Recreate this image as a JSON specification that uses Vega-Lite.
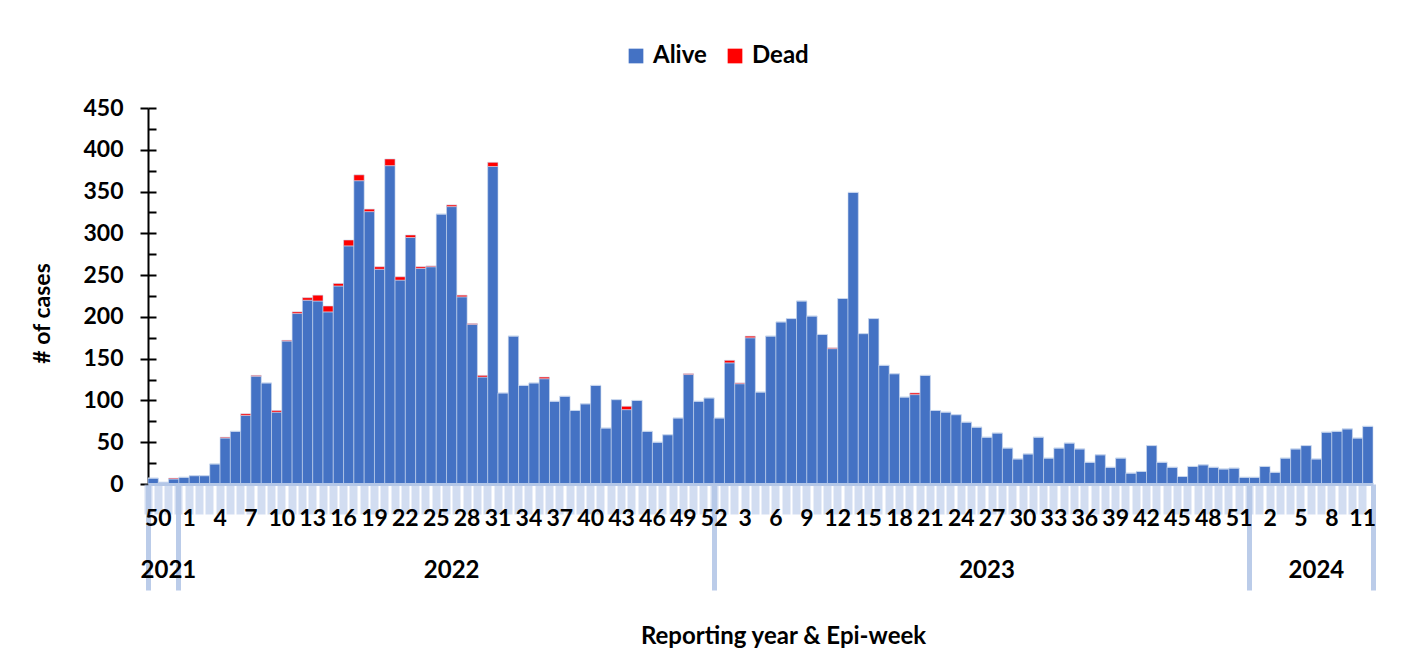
{
  "$schema": "https://vega.github.io/schema/vega-lite/v6.json",
  "autosize": {"type": "none"},
  "padding": {"left": 148, "top": 108, "right": 29, "bottom": 169},
  "width": 1225,
  "height": 376,
  "background": "white",
  "config": {
    "font": "Lato",
    "view": {"stroke": null},
    "axis": {"grid": false}
  },
  "data": {
    "values": [
      {"k": "2021-50", "Alive": 7, "Dead": 0},
      {"k": "2021-51", "Alive": 2, "Dead": 0},
      {"k": "2021-52", "Alive": 6, "Dead": 1},
      {"k": "2022-01", "Alive": 8, "Dead": 0},
      {"k": "2022-02", "Alive": 10, "Dead": 0},
      {"k": "2022-03", "Alive": 10, "Dead": 0},
      {"k": "2022-04", "Alive": 24, "Dead": 0},
      {"k": "2022-05", "Alive": 55, "Dead": 1},
      {"k": "2022-06", "Alive": 63, "Dead": 0},
      {"k": "2022-07", "Alive": 82, "Dead": 2},
      {"k": "2022-08", "Alive": 129, "Dead": 1},
      {"k": "2022-09", "Alive": 121, "Dead": 0},
      {"k": "2022-10", "Alive": 86, "Dead": 2},
      {"k": "2022-11", "Alive": 171, "Dead": 1},
      {"k": "2022-12", "Alive": 204, "Dead": 2},
      {"k": "2022-13", "Alive": 220, "Dead": 3},
      {"k": "2022-14", "Alive": 219, "Dead": 7},
      {"k": "2022-15", "Alive": 206, "Dead": 7},
      {"k": "2022-16", "Alive": 237, "Dead": 3},
      {"k": "2022-17", "Alive": 285, "Dead": 7},
      {"k": "2022-18", "Alive": 363, "Dead": 7},
      {"k": "2022-19", "Alive": 326, "Dead": 3},
      {"k": "2022-20", "Alive": 257, "Dead": 3},
      {"k": "2022-21", "Alive": 381, "Dead": 8},
      {"k": "2022-22", "Alive": 244, "Dead": 4},
      {"k": "2022-23", "Alive": 295, "Dead": 3},
      {"k": "2022-24", "Alive": 258, "Dead": 2},
      {"k": "2022-25", "Alive": 260, "Dead": 1},
      {"k": "2022-26", "Alive": 323, "Dead": 0},
      {"k": "2022-27", "Alive": 332, "Dead": 2},
      {"k": "2022-28", "Alive": 224, "Dead": 2},
      {"k": "2022-29", "Alive": 191, "Dead": 1},
      {"k": "2022-30", "Alive": 128, "Dead": 2},
      {"k": "2022-31", "Alive": 380, "Dead": 5},
      {"k": "2022-32", "Alive": 109, "Dead": 0},
      {"k": "2022-33", "Alive": 177, "Dead": 0},
      {"k": "2022-34", "Alive": 118, "Dead": 0},
      {"k": "2022-35", "Alive": 121, "Dead": 0},
      {"k": "2022-36", "Alive": 126, "Dead": 2},
      {"k": "2022-37", "Alive": 99, "Dead": 0},
      {"k": "2022-38", "Alive": 105, "Dead": 0},
      {"k": "2022-39", "Alive": 88, "Dead": 0},
      {"k": "2022-40", "Alive": 96, "Dead": 0},
      {"k": "2022-41", "Alive": 118, "Dead": 0},
      {"k": "2022-42", "Alive": 67, "Dead": 0},
      {"k": "2022-43", "Alive": 101, "Dead": 0},
      {"k": "2022-44", "Alive": 89, "Dead": 4},
      {"k": "2022-45", "Alive": 100, "Dead": 0},
      {"k": "2022-46", "Alive": 63, "Dead": 0},
      {"k": "2022-47", "Alive": 50, "Dead": 0},
      {"k": "2022-48", "Alive": 59, "Dead": 0},
      {"k": "2022-49", "Alive": 79, "Dead": 0},
      {"k": "2022-50", "Alive": 131, "Dead": 1},
      {"k": "2022-51", "Alive": 99, "Dead": 0},
      {"k": "2022-52", "Alive": 103, "Dead": 0},
      {"k": "2023-01", "Alive": 79, "Dead": 0},
      {"k": "2023-02", "Alive": 145, "Dead": 3},
      {"k": "2023-03", "Alive": 120, "Dead": 1},
      {"k": "2023-04", "Alive": 175, "Dead": 2},
      {"k": "2023-05", "Alive": 110, "Dead": 0},
      {"k": "2023-06", "Alive": 177, "Dead": 0},
      {"k": "2023-07", "Alive": 194, "Dead": 0},
      {"k": "2023-08", "Alive": 198, "Dead": 0},
      {"k": "2023-09", "Alive": 219, "Dead": 0},
      {"k": "2023-10", "Alive": 201, "Dead": 0},
      {"k": "2023-11", "Alive": 179, "Dead": 0},
      {"k": "2023-12", "Alive": 162, "Dead": 1},
      {"k": "2023-13", "Alive": 222, "Dead": 0},
      {"k": "2023-14", "Alive": 349, "Dead": 0},
      {"k": "2023-15", "Alive": 180, "Dead": 0},
      {"k": "2023-16", "Alive": 198, "Dead": 0},
      {"k": "2023-17", "Alive": 142, "Dead": 0},
      {"k": "2023-18", "Alive": 132, "Dead": 0},
      {"k": "2023-19", "Alive": 104, "Dead": 0},
      {"k": "2023-20", "Alive": 107, "Dead": 2},
      {"k": "2023-21", "Alive": 130, "Dead": 0},
      {"k": "2023-22", "Alive": 88, "Dead": 0},
      {"k": "2023-23", "Alive": 86, "Dead": 0},
      {"k": "2023-24", "Alive": 83, "Dead": 0},
      {"k": "2023-25", "Alive": 74, "Dead": 0},
      {"k": "2023-26", "Alive": 68, "Dead": 0},
      {"k": "2023-27", "Alive": 56, "Dead": 0},
      {"k": "2023-28", "Alive": 61, "Dead": 0},
      {"k": "2023-29", "Alive": 43, "Dead": 0},
      {"k": "2023-30", "Alive": 30, "Dead": 0},
      {"k": "2023-31", "Alive": 36, "Dead": 0},
      {"k": "2023-32", "Alive": 56, "Dead": 0},
      {"k": "2023-33", "Alive": 31, "Dead": 0},
      {"k": "2023-34", "Alive": 43, "Dead": 0},
      {"k": "2023-35", "Alive": 49, "Dead": 0},
      {"k": "2023-36", "Alive": 42, "Dead": 0},
      {"k": "2023-37", "Alive": 26, "Dead": 0},
      {"k": "2023-38", "Alive": 35, "Dead": 0},
      {"k": "2023-39", "Alive": 20, "Dead": 0},
      {"k": "2023-40", "Alive": 31, "Dead": 0},
      {"k": "2023-41", "Alive": 13, "Dead": 0},
      {"k": "2023-42", "Alive": 15, "Dead": 0},
      {"k": "2023-43", "Alive": 46, "Dead": 0},
      {"k": "2023-44", "Alive": 26, "Dead": 0},
      {"k": "2023-45", "Alive": 20, "Dead": 0},
      {"k": "2023-46", "Alive": 9, "Dead": 0},
      {"k": "2023-47", "Alive": 21, "Dead": 0},
      {"k": "2023-48", "Alive": 23, "Dead": 0},
      {"k": "2023-49", "Alive": 20, "Dead": 0},
      {"k": "2023-50", "Alive": 18, "Dead": 0},
      {"k": "2023-51", "Alive": 19, "Dead": 0},
      {"k": "2023-52", "Alive": 8, "Dead": 0},
      {"k": "2024-01", "Alive": 8, "Dead": 0},
      {"k": "2024-02", "Alive": 21, "Dead": 0},
      {"k": "2024-03", "Alive": 14, "Dead": 0},
      {"k": "2024-04", "Alive": 31, "Dead": 0},
      {"k": "2024-05", "Alive": 42, "Dead": 0},
      {"k": "2024-06", "Alive": 46, "Dead": 0},
      {"k": "2024-07", "Alive": 30, "Dead": 0},
      {"k": "2024-08", "Alive": 62, "Dead": 0},
      {"k": "2024-09", "Alive": 63, "Dead": 0},
      {"k": "2024-10", "Alive": 66, "Dead": 0},
      {"k": "2024-11", "Alive": 55, "Dead": 0},
      {"k": "2024-12", "Alive": 69, "Dead": 0}
    ]
  },
  "resolve": {"axis": {"x": "independent", "y": "independent"}},
  "layer": [
    {
      "transform": [{"fold": ["Alive", "Dead"], "as": ["status", "cases"]}],
      "mark": {"type": "bar", "stroke": "#c9d6ee", "strokeWidth": 0.6},
      "encoding": {
        "x": {
          "field": "k", "type": "ordinal",
          "scale": {"type": "band", "paddingInner": 0, "paddingOuter": 0},
          "axis": {
            "orient": "bottom",
            "zindex": 1,
            "bandPosition": 0,
            "labelOffset": 5.15,
            "tickSize": 30,
            "tickWidth": 8,
            "tickColor": "#b4c7e7",
            "tickOpacity": 0.6,
            "domainColor": "#b4c7e7",
            "domainWidth": 3,
            "labelExpr": "((substring(datum.value,0,4)=='2021' && toNumber(substring(datum.value,5,7))==50) || (substring(datum.value,0,4)=='2022' && toNumber(substring(datum.value,5,7))%3==1) || (substring(datum.value,0,4)=='2023' && toNumber(substring(datum.value,5,7))%3==0) || (substring(datum.value,0,4)=='2024' && toNumber(substring(datum.value,5,7))%3==2)) ? toString(toNumber(substring(datum.value,5,7))) : ''",
            "labelAngle": 0,
            "labelAlign": "center",
            "labelBaseline": "top",
            "labelFontSize": 23,
            "labelFontWeight": "bold",
            "labelColor": "black",
            "labelPadding": -7,
            "labelOverlap": false,
            "labelBound": false,
            "title": "Reporting year & Epi-week",
            "titleFontSize": 24,
            "titleFontWeight": "bold",
            "titleColor": "black",
            "titleX": 635,
            "titleY": 152,
            "titleAlign": "center",
            "titleBaseline": "middle"
          }
        },
        "y": {
          "field": "cases", "type": "quantitative", "aggregate": "sum", "stack": "zero",
          "scale": {"domain": [0, 450], "nice": false},
          "axis": {
            "orient": "left",
            "values": [0, 50, 100, 150, 200, 250, 300, 350, 400, 450],
            "tickSize": 8,
            "tickWidth": 2,
            "tickColor": "black",
            "domainColor": "black",
            "domainWidth": 2,
            "labelFontSize": 23,
            "labelFontWeight": "bold",
            "labelColor": "black",
            "labelPadding": 17,
            "title": "# of cases",
            "titleFontSize": 23,
            "titleFontWeight": "bold",
            "titleColor": "black",
            "titleX": -106,
            "titleY": 205,
            "titleAngle": 270,
            "titleAlign": "center",
            "titleBaseline": "middle"
          }
        },
        "order": {"field": "status", "sort": "ascending"},
        "color": {
          "field": "status", "type": "nominal",
          "scale": {"domain": ["Alive", "Dead"], "range": ["#4472C4", "#FF0000"]},
          "legend": {
            "title": null,
            "orient": "none",
            "legendX": 476,
            "legendY": -64,
            "direction": "horizontal",
            "symbolType": "square",
            "symbolSize": 216,
            "symbolStrokeWidth": 0,
            "labelFontSize": 24,
            "labelFontWeight": "bold",
            "labelColor": "black",
            "columnPadding": 16,
            "labelOffset": 5,
            "padding": 0
          }
        }
      }
    },
    {
      "mark": {"type": "tick", "opacity": 0},
      "encoding": {
        "x": {
          "field": "k", "type": "ordinal",
          "scale": {"type": "band", "paddingInner": 0, "paddingOuter": 0},
          "axis": {
            "orient": "bottom",
            "zindex": 0,
            "values": ["2021-50", "2021-51", "2022-01", "2022-27", "2023-01", "2023-27", "2024-01", "2024-07"],
            "bandPosition": 0,
            "tickSize": 106,
            "tickWidth": 5,
            "tickColor": "#b4c7e7",
            "tickOpacity": {"condition": {"test": "indexof(['2021-50','2022-01','2023-01','2024-01'], datum.value) >= 0", "value": 0.9}, "value": 0},
            "domain": false,
            "labelExpr": "datum.value=='2021-51' ? '2021' : datum.value=='2022-27' ? '2022' : datum.value=='2023-27' ? '2023' : datum.value=='2024-07' ? '2024' : ''",
            "labelOffset": {"condition": {"test": "datum.value=='2021-51'", "value": 5}, "value": 0},
            "labelAngle": 0,
            "labelAlign": "center",
            "labelBaseline": "top",
            "labelPadding": -32,
            "labelFontSize": 24,
            "labelFontWeight": "bold",
            "labelColor": "black",
            "labelOverlap": false,
            "labelBound": false,
            "title": null
          }
        },
        "y": {
          "field": "Alive", "type": "quantitative",
          "scale": {"domain": [0, 450], "nice": false},
          "axis": {
            "orient": "left",
            "values": [0, 25, 50, 75, 100, 125, 150, 175, 200, 225, 250, 275, 300, 325, 350, 375, 400, 425, 450],
            "tickSize": -8,
            "tickWidth": 2,
            "tickColor": "black",
            "domain": false,
            "labels": false,
            "title": null
          }
        }
      }
    },
    {
      "mark": {"type": "tick", "opacity": 0},
      "encoding": {
        "x": {
          "field": "k", "type": "ordinal",
          "scale": {"type": "band", "paddingInner": 0, "paddingOuter": 0},
          "axis": {
            "orient": "bottom",
            "zindex": 0,
            "values": ["2024-12"],
            "bandPosition": 1,
            "tickSize": 106,
            "tickWidth": 5,
            "tickColor": "#b4c7e7",
            "tickOpacity": 0.9,
            "domain": false,
            "labels": false,
            "title": null
          }
        }
      }
    }
  ]
}
